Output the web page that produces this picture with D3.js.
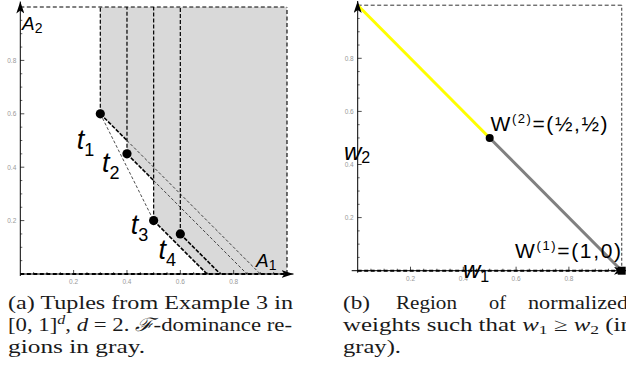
<!DOCTYPE html>
<html><head><meta charset="utf-8">
<script src="https://cdn.jsdelivr.net/npm/d3@7"></script>
<style>
html,body{margin:0;padding:0;background:#fff;}
svg{display:block;}
</style></head>
<body>
<svg id="chart" width="626" height="367"></svg>
<script>
// ---------- data ----------
const tupleNames = ["1", "2", "3", "4"];          // subscripts of t
const tupleA1 = [0.3, 0.4, 0.5, 0.6];
const tupleA2 = [0.6, 0.45, 0.2, 0.15];
const edgeSolidTo = [0.4, 0.5, 0.7, 0.75];        // A1 where the bold part of each slope edge ends
const thinLinks = [[0, 2]];                       // t1 – t3
const majorTicks = [0.2, 0.4, 0.6, 0.8];
const minorTicks = d3.range(1, 20).map(i => i / 20).filter(v => Math.abs(v * 5 - Math.round(v * 5)) > 1e-6);
const weightW1 = [0, 0.5, 1];
const weightW2 = [1, 0.5, 0];
const weightColors = ["#ffff00", "#808080"];

const svg = d3.select("#chart");
const sans = "'Liberation Sans', Arial, sans-serif";
const serif = "'Liberation Serif', 'Times New Roman', serif";

svg.append("defs").html(`
  <marker id="arr" viewBox="0 0 12 8" refX="12" refY="4" markerWidth="12" markerHeight="8" markerUnits="userSpaceOnUse" orient="auto">
    <path d="M0,0 L12,4 L0,8 L3,4 Z" fill="#000"/>
  </marker>`);

function axes(g, x, y, tickColor) {
  const tl = g.append("g");
  minorTicks.forEach(v => {
    tl.append("line").attr("x1", x(v)).attr("x2", x(v)).attr("y1", y(0)).attr("y2", y(0) - 2).attr("stroke", "#000").attr("stroke-width", 0.6);
    tl.append("line").attr("y1", y(v)).attr("y2", y(v)).attr("x1", x(0)).attr("x2", x(0) + 2).attr("stroke", "#000").attr("stroke-width", 0.6);
  });
  majorTicks.forEach(v => {
    tl.append("line").attr("x1", x(v)).attr("x2", x(v)).attr("y1", y(0)).attr("y2", y(0) - 4).attr("stroke", "#000").attr("stroke-width", 0.7);
    tl.append("line").attr("y1", y(v)).attr("y2", y(v)).attr("x1", x(0)).attr("x2", x(0) + 4).attr("stroke", "#000").attr("stroke-width", 0.7);
    g.append("text").attr("x", x(v)).attr("y", y(0) + 10).attr("text-anchor", "middle")
      .attr("font-family", sans).attr("font-size", 6.5).attr("fill", tickColor).text(d3.format(".1f")(v));
    g.append("text").attr("x", x(0) - 4).attr("y", y(v) + 2.3).attr("text-anchor", "end")
      .attr("font-family", sans).attr("font-size", 6.5).attr("fill", tickColor).text(d3.format(".1f")(v));
  });
}

// ================= left panel =================
{
  const x = d3.scaleLinear().domain([0, 1]).range([20.3, 287]);
  const y = d3.scaleLinear().domain([0, 1]).range([274, 7]);
  const g = svg.append("g");

  // union of dominance regions
  const order = d3.range(tupleA1.length).sort((i, j) => tupleA1[i] - tupleA1[j]);
  const poly = [];
  let m = Infinity;
  order.forEach((i, k) => {
    const xa = tupleA1[i], s = tupleA1[i] + tupleA2[i];
    if (k === 0) { poly.push([xa, 1], [xa, Math.max(0, s - xa)]); m = s; return; }
    if (s < m && m > xa) { poly.push([xa, m - xa], [xa, Math.max(0, s - xa)]); m = s; }
  });
  poly.push([Math.min(m, 1), 0], [1, 0], [1, 1]);
  g.append("path").attr("d", d3.line().x(d => x(d[0])).y(d => y(d[1]))(poly) + "Z")
    .attr("fill", "#d9d9d9").attr("stroke", "none");

  axes(g, x, y, "#999");

  // frame
  g.append("line").attr("x1", x(0)).attr("x2", x(1)).attr("y1", y(1)).attr("y2", y(1))
    .attr("stroke", "#000").attr("stroke-width", 1).attr("stroke-dasharray", "4,2.5");
  g.append("line").attr("x1", x(1)).attr("x2", x(1)).attr("y1", y(0)).attr("y2", y(1))
    .attr("stroke", "#000").attr("stroke-width", 1.1).attr("stroke-dasharray", "4,2.5");
  g.append("line").attr("x1", x(0)).attr("x2", x(1)).attr("y1", y(0)).attr("y2", y(0))
    .attr("stroke", "#000").attr("stroke-width", 2).attr("stroke-dasharray", "4,2.5");

  // vertical edges
  tupleA1.forEach((a, i) => {
    g.append("line").attr("x1", x(a)).attr("x2", x(a)).attr("y1", y(tupleA2[i])).attr("y2", y(1))
      .attr("stroke", "#000").attr("stroke-width", 1.2).attr("stroke-dasharray", "4,2");
  });
  // slope edges
  tupleA1.forEach((a, i) => {
    const s = a + tupleA2[i];
    const xe = edgeSolidTo[i];
    g.append("line").attr("x1", x(a)).attr("y1", y(tupleA2[i])).attr("x2", x(xe)).attr("y2", y(s - xe))
      .attr("stroke", "#000").attr("stroke-width", 1.6).attr("stroke-dasharray", "4,1.5");
    if (xe < s) {
      g.append("line").attr("x1", x(xe)).attr("y1", y(s - xe)).attr("x2", x(s)).attr("y2", y(0))
        .attr("stroke", "#000").attr("stroke-width", 0.7).attr("stroke-dasharray", "3,2");
    }
  });
  thinLinks.forEach(([p, q]) => {
    g.append("line").attr("x1", x(tupleA1[p])).attr("y1", y(tupleA2[p])).attr("x2", x(tupleA1[q])).attr("y2", y(tupleA2[q]))
      .attr("stroke", "#000").attr("stroke-width", 0.7).attr("stroke-dasharray", "3,2");
  });

  // axis lines with arrows
  g.append("line").attr("x1", x(0)).attr("x2", 293.5).attr("y1", y(0)).attr("y2", y(0))
    .attr("stroke", "#000").attr("stroke-width", 1).attr("marker-end", "url(#arr)");
  g.append("line").attr("x1", x(0)).attr("x2", x(0)).attr("y1", y(0) + 2).attr("y2", 1.5)
    .attr("stroke", "#000").attr("stroke-width", 1).attr("marker-end", "url(#arr)");

  // points
  tupleA1.forEach((a, i) => {
    g.append("circle").attr("cx", x(a)).attr("cy", y(tupleA2[i])).attr("r", 4.6).attr("fill", "#000");
  });

  // labels
  const labelOffsets = [[-23.5, 35.5], [-25, 18], [-22.8, 13.5], [-21.8, 25]];
  tupleA1.forEach((a, i) => {
    const t = g.append("text").attr("x", x(a) + labelOffsets[i][0]).attr("y", y(tupleA2[i]) + labelOffsets[i][1])
      .attr("font-family", sans).attr("font-style", "italic").attr("font-size", 27).attr("fill", "#000");
    t.append("tspan").text("t");
    t.append("tspan").attr("dy", 7).attr("font-size", 18).attr("font-style", "normal").text(tupleNames[i]);
  });
  const A2 = g.append("text").attr("x", 22).attr("y", 30).attr("font-family", sans).attr("font-style", "italic").attr("font-size", 19);
  A2.append("tspan").text("A");
  A2.append("tspan").attr("dy", 3).attr("font-size", 14).attr("font-style", "normal").text("2");
  const A1 = g.append("text").attr("x", 256).attr("y", 267).attr("font-family", sans).attr("font-style", "italic").attr("font-size", 19);
  A1.append("tspan").text("A");
  A1.append("tspan").attr("dy", 3).attr("font-size", 14).attr("font-style", "normal").text("1");
}

// ================= right panel =================
{
  const x = d3.scaleLinear().domain([0, 1]).range([357.7, 621.7]);
  const y = d3.scaleLinear().domain([0, 1]).range([270.7, 5.2]);
  const g = svg.append("g");

  axes(g, x, y, "#999");

  g.append("line").attr("x1", x(0)).attr("x2", x(1)).attr("y1", y(1)).attr("y2", y(1))
    .attr("stroke", "#333").attr("stroke-width", 1).attr("stroke-dasharray", "4,2.5");
  g.append("line").attr("x1", x(1)).attr("x2", x(1)).attr("y1", y(0)).attr("y2", y(1))
    .attr("stroke", "#555").attr("stroke-width", 1.2).attr("stroke-dasharray", "3,2");
  g.append("line").attr("x1", x(0)).attr("x2", x(1)).attr("y1", y(0)).attr("y2", y(0))
    .attr("stroke", "#000").attr("stroke-width", 2).attr("stroke-dasharray", "4,2.5");

  // weight segments
  for (let i = 0; i < weightW1.length - 1; i++) {
    g.append("line").attr("x1", x(weightW1[i])).attr("y1", y(weightW2[i])).attr("x2", x(weightW1[i + 1])).attr("y2", y(weightW2[i + 1]))
      .attr("stroke", weightColors[i]).attr("stroke-width", 3);
  }

  g.append("line").attr("x1", x(0) - 6).attr("x2", 626).attr("y1", y(0)).attr("y2", y(0))
    .attr("stroke", "#000").attr("stroke-width", 1).attr("marker-end", "url(#arr)");
  g.append("line").attr("x1", x(0)).attr("x2", x(0)).attr("y1", y(0) + 2).attr("y2", 1)
    .attr("stroke", "#000").attr("stroke-width", 1).attr("marker-end", "url(#arr)");

  g.append("circle").attr("cx", x(weightW1[1])).attr("cy", y(weightW2[1])).attr("r", 4).attr("fill", "#000");
  g.append("rect").attr("x", x(weightW1[2]) - 4).attr("y", y(weightW2[2]) - 4).attr("width", 8).attr("height", 8).attr("fill", "#000");

  const W2 = g.append("text").attr("x", 490.5).attr("y", 131).attr("font-family", sans).attr("font-size", 21).attr("textLength", 117).attr("lengthAdjust", "spacing");
  W2.append("tspan").text("W");
  W2.append("tspan").attr("dy", -8).attr("font-size", 13).text("(2)");
  W2.append("tspan").attr("dy", 8).text("=(½,½)");
  const W1 = g.append("text").attr("x", 515).attr("y", 258).attr("font-family", sans).attr("font-size", 21).attr("textLength", 106).attr("lengthAdjust", "spacing");
  W1.append("tspan").text("W");
  W1.append("tspan").attr("dy", -8).attr("font-size", 13).text("(1)");
  W1.append("tspan").attr("dy", 8).text("=(1,0)");

  const w2 = g.append("text").attr("x", 344).attr("y", 160).attr("font-family", sans).attr("font-style", "italic").attr("font-size", 24);
  w2.append("tspan").text("w");
  w2.append("tspan").attr("dy", 3).attr("font-size", 16).attr("font-style", "normal").text("2");
  const w1 = g.append("text").attr("x", 463).attr("y", 278).attr("font-family", sans).attr("font-style", "italic").attr("font-size", 24);
  w1.append("tspan").text("w");
  w1.append("tspan").attr("dy", 4).attr("font-size", 16).attr("font-style", "normal").text("1");
}

// ================= captions =================
{
  const cap = svg.append("g").attr("font-family", serif).attr("font-size", 18.5).attr("fill", "#1a1a1a");
  const b1 = 309, b2 = 331, b3 = 353;
  const adj = "spacingAndGlyphs";
  cap.append("text").attr("x", 8).attr("y", b1).attr("textLength", 285).attr("lengthAdjust", adj)
    .text("(a) Tuples from Example 3 in");
  const l2 = cap.append("text").attr("x", 8).attr("y", b2).attr("textLength", 284).attr("lengthAdjust", adj);
  l2.append("tspan").text("[0, 1]");
  l2.append("tspan").attr("dy", -7).attr("font-size", 13).attr("font-style", "italic").text("d");
  l2.append("tspan").attr("dy", 7).text(", ");
  l2.append("tspan").attr("font-style", "italic").text("d");
  l2.append("tspan").text(" = 2.  ");
  l2.append("tspan").attr("font-style", "italic").text("ℱ");
  l2.append("tspan").text("-dominance re-");
  cap.append("text").attr("x", 8).attr("y", b3).attr("textLength", 137).attr("lengthAdjust", adj).text("gions in gray.");

  const words = [["(b)", 343, 27], ["Region", 396, 61], ["of", 489, 17], ["normalized", 528, 100]];
  words.forEach(([w, xx, wd]) => cap.append("text").attr("x", xx).attr("y", b1)
    .attr("textLength", wd).attr("lengthAdjust", adj).text(w));
  const m2 = cap.append("text").attr("x", 343).attr("y", b2).attr("textLength", 290).attr("lengthAdjust", adj);
  m2.append("tspan").text("weights such that ");
  m2.append("tspan").attr("font-style", "italic").text("w");
  m2.append("tspan").attr("dy", 3).attr("font-size", 13).text("1");
  m2.append("tspan").attr("dy", -3).text(" ≥ ");
  m2.append("tspan").attr("font-style", "italic").text("w");
  m2.append("tspan").attr("dy", 3).attr("font-size", 13).text("2");
  m2.append("tspan").attr("dy", -3).text(" (in");
  cap.append("text").attr("x", 343).attr("y", b3).attr("textLength", 58).attr("lengthAdjust", adj).text("gray).");
}
</script>
</body></html>
